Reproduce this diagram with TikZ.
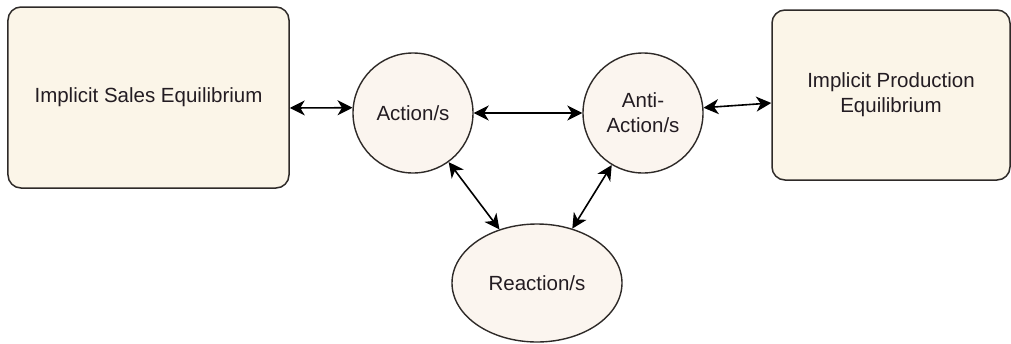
\documentclass[tikz,border=0pt]{standalone}
\usepackage{fontspec}
\setmainfont{Liberation Sans}
\usetikzlibrary{arrows.meta,shapes.geometric}
\definecolor{boxfill}{HTML}{FBF5E8}
\definecolor{roundfill}{HTML}{FBF5EF}
\definecolor{edge}{HTML}{2E2A28}
\definecolor{ink}{HTML}{231C22}
\begin{document}
\begin{tikzpicture}[x=1bp,y=-1bp,
  every node/.style={font=\fontsize{20.5bp}{25bp}\selectfont, text=ink},
  eqbox/.style={draw=edge, line width=1.5bp, fill=boxfill, rounded corners=13bp,
    inner sep=0pt, align=center},
  bubble/.style={draw=edge, line width=1.4bp, fill=roundfill, circle,
    minimum size=120bp, inner sep=0pt, align=center},
  oval/.style={draw=edge, line width=1.4bp, fill=roundfill, ellipse,
    minimum width=170bp, minimum height=118bp, inner sep=0pt},
  link/.style={line width=1.6bp, draw=black,
    {Stealth[length=15bp,width=15bp,inset=4.5bp]}-{Stealth[length=15bp,width=15bp,inset=4.5bp]}}
]
\useasboundingbox (0,0) rectangle (1011,343);

% equilibrium boxes
\node[eqbox, minimum width=281bp, minimum height=181bp] (sales) at (148.5,97.5)
  {Implicit Sales Equilibrium};
\node[eqbox, minimum width=238bp, minimum height=170bp] (prod) at (891,95)
  {Implicit Production\\Equilibrium};

% action / anti-action / reaction nodes
\node[bubble] (act) at (413,113) {Action/s};
\node[bubble] (anti) at (643,113) {Anti-\\Action/s};
\node[oval] (rea) at (537,283) {Reaction/s};

% two-way links
\draw[link] ([yshift=-10.5bp]sales.east) -- (act.175);
\draw[link] (act.east) -- (anti.west);
\draw[link] (anti.5) -- ([yshift=-8bp]prod.west);
\draw[link] (act.-54) -- (rea.125);
\draw[link] (anti.-121) -- (rea.57);
\end{tikzpicture}
\end{document}
